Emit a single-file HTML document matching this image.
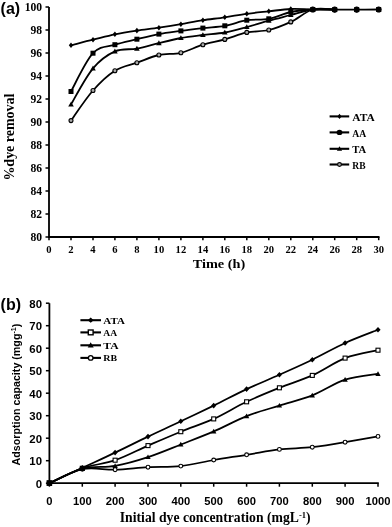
<!DOCTYPE html><html><head><meta charset="utf-8"><style>
html,body{margin:0;padding:0;background:#fff;}
svg{display:block;filter:blur(0.3px);}
.sr{font-family:"Liberation Serif",serif;font-weight:bold;}
.ss{font-family:"Liberation Sans",sans-serif;font-weight:bold;}
</style></head><body>
<svg width="392" height="527" viewBox="0 0 392 527">
<rect width="392" height="527" fill="#fff"/>
<text class="ss" x="0.6" y="13.8" font-size="16">(a)</text>
<path d="M49.0 7.0V237.0H379.5" fill="none" stroke="#000" stroke-width="1.8"/>
<path d="M45.5 7.0H49.0" stroke="#000" stroke-width="1.5"/>
<text class="sr" x="42.1" y="10.9" font-size="11.6" text-anchor="end">100</text>
<path d="M45.5 30.0H49.0" stroke="#000" stroke-width="1.5"/>
<text class="sr" x="42.1" y="33.9" font-size="11.6" text-anchor="end">98</text>
<path d="M45.5 53.0H49.0" stroke="#000" stroke-width="1.5"/>
<text class="sr" x="42.1" y="56.9" font-size="11.6" text-anchor="end">96</text>
<path d="M45.5 76.0H49.0" stroke="#000" stroke-width="1.5"/>
<text class="sr" x="42.1" y="79.9" font-size="11.6" text-anchor="end">94</text>
<path d="M45.5 99.0H49.0" stroke="#000" stroke-width="1.5"/>
<text class="sr" x="42.1" y="102.9" font-size="11.6" text-anchor="end">92</text>
<path d="M45.5 122.0H49.0" stroke="#000" stroke-width="1.5"/>
<text class="sr" x="42.1" y="125.9" font-size="11.6" text-anchor="end">90</text>
<path d="M45.5 145.0H49.0" stroke="#000" stroke-width="1.5"/>
<text class="sr" x="42.1" y="148.9" font-size="11.6" text-anchor="end">88</text>
<path d="M45.5 168.0H49.0" stroke="#000" stroke-width="1.5"/>
<text class="sr" x="42.1" y="171.9" font-size="11.6" text-anchor="end">86</text>
<path d="M45.5 191.0H49.0" stroke="#000" stroke-width="1.5"/>
<text class="sr" x="42.1" y="194.9" font-size="11.6" text-anchor="end">84</text>
<path d="M45.5 214.0H49.0" stroke="#000" stroke-width="1.5"/>
<text class="sr" x="42.1" y="217.9" font-size="11.6" text-anchor="end">82</text>
<path d="M45.5 237.0H49.0" stroke="#000" stroke-width="1.5"/>
<text class="sr" x="42.1" y="240.9" font-size="11.6" text-anchor="end">80</text>
<path d="M49.0 237.0V240.2" stroke="#000" stroke-width="1.5"/>
<text class="sr" x="49.0" y="253.0" font-size="10.6" text-anchor="middle">0</text>
<path d="M71.0 237.0V240.2" stroke="#000" stroke-width="1.5"/>
<text class="sr" x="71.0" y="253.0" font-size="10.6" text-anchor="middle">2</text>
<path d="M93.0 237.0V240.2" stroke="#000" stroke-width="1.5"/>
<text class="sr" x="93.0" y="253.0" font-size="10.6" text-anchor="middle">4</text>
<path d="M114.9 237.0V240.2" stroke="#000" stroke-width="1.5"/>
<text class="sr" x="114.9" y="253.0" font-size="10.6" text-anchor="middle">6</text>
<path d="M136.9 237.0V240.2" stroke="#000" stroke-width="1.5"/>
<text class="sr" x="136.9" y="253.0" font-size="10.6" text-anchor="middle">8</text>
<path d="M158.9 237.0V240.2" stroke="#000" stroke-width="1.5"/>
<text class="sr" x="158.9" y="253.0" font-size="10.6" text-anchor="middle">10</text>
<path d="M180.9 237.0V240.2" stroke="#000" stroke-width="1.5"/>
<text class="sr" x="180.9" y="253.0" font-size="10.6" text-anchor="middle">12</text>
<path d="M202.9 237.0V240.2" stroke="#000" stroke-width="1.5"/>
<text class="sr" x="202.9" y="253.0" font-size="10.6" text-anchor="middle">14</text>
<path d="M224.8 237.0V240.2" stroke="#000" stroke-width="1.5"/>
<text class="sr" x="224.8" y="253.0" font-size="10.6" text-anchor="middle">16</text>
<path d="M246.8 237.0V240.2" stroke="#000" stroke-width="1.5"/>
<text class="sr" x="246.8" y="253.0" font-size="10.6" text-anchor="middle">18</text>
<path d="M268.8 237.0V240.2" stroke="#000" stroke-width="1.5"/>
<text class="sr" x="268.8" y="253.0" font-size="10.6" text-anchor="middle">20</text>
<path d="M290.8 237.0V240.2" stroke="#000" stroke-width="1.5"/>
<text class="sr" x="290.8" y="253.0" font-size="10.6" text-anchor="middle">22</text>
<path d="M312.8 237.0V240.2" stroke="#000" stroke-width="1.5"/>
<text class="sr" x="312.8" y="253.0" font-size="10.6" text-anchor="middle">24</text>
<path d="M334.7 237.0V240.2" stroke="#000" stroke-width="1.5"/>
<text class="sr" x="334.7" y="253.0" font-size="10.6" text-anchor="middle">26</text>
<path d="M356.7 237.0V240.2" stroke="#000" stroke-width="1.5"/>
<text class="sr" x="356.7" y="253.0" font-size="10.6" text-anchor="middle">28</text>
<path d="M378.7 237.0V240.2" stroke="#000" stroke-width="1.5"/>
<text class="sr" x="378.7" y="253.0" font-size="10.6" text-anchor="middle">30</text>
<text class="sr" x="192.7" y="268" font-size="12.8" textLength="52.6" lengthAdjust="spacingAndGlyphs">Time (h)</text>
<text class="sr" transform="translate(14.4,180.6) rotate(-90)" font-size="14.2" textLength="87" lengthAdjust="spacingAndGlyphs">%dye removal</text>
<path d="M71.0 45.3C74.6 44.4 85.6 41.5 93.0 39.7C100.3 37.9 107.6 35.8 114.9 34.3C122.3 32.8 129.6 31.7 136.9 30.6C144.2 29.5 151.6 28.8 158.9 27.7C166.2 26.6 173.6 25.4 180.9 24.2C188.2 22.9 195.5 21.3 202.9 20.2C210.2 19.1 217.5 18.4 224.8 17.3C232.2 16.2 239.5 14.8 246.8 13.8C254.1 12.8 261.5 12.1 268.8 11.3C276.1 10.5 283.5 9.3 290.8 9.0C298.1 8.7 305.4 9.4 312.8 9.5C320.1 9.6 327.4 9.6 334.7 9.6C342.1 9.6 349.4 9.6 356.7 9.6C364.0 9.6 375.0 9.5 378.7 9.5" fill="none" stroke="#000" stroke-width="1.8" stroke-linejoin="round"/>
<path d="M71.0 91.5C74.6 85.1 85.6 61.0 93.0 53.2C100.3 45.4 107.6 47.0 114.9 44.7C122.3 42.4 129.6 41.0 136.9 39.2C144.2 37.4 151.6 35.5 158.9 34.1C166.2 32.7 173.6 31.9 180.9 30.9C188.2 29.9 195.5 29.0 202.9 28.1C210.2 27.2 217.5 27.1 224.8 25.8C232.2 24.5 239.5 21.4 246.8 20.2C254.1 19.0 261.5 20.2 268.8 18.8C276.1 17.4 283.5 13.6 290.8 12.0C298.1 10.4 305.4 9.9 312.8 9.5C320.1 9.1 331.1 9.6 334.7 9.6" fill="none" stroke="#000" stroke-width="1.8" stroke-linejoin="round"/>
<path d="M71.0 104.5C74.6 98.5 85.6 77.2 93.0 68.4C100.3 59.6 107.6 54.7 114.9 51.4C122.3 48.1 129.6 50.0 136.9 48.6C144.2 47.2 151.6 44.9 158.9 43.1C166.2 41.3 173.6 39.4 180.9 38.0C188.2 36.6 195.5 35.9 202.9 35.0C210.2 34.1 217.5 33.8 224.8 32.5C232.2 31.2 239.5 29.0 246.8 27.0C254.1 25.0 261.5 22.7 268.8 20.7C276.1 18.7 283.5 16.9 290.8 15.0C298.1 13.1 305.4 10.4 312.8 9.5C320.1 8.6 331.1 9.6 334.7 9.6" fill="none" stroke="#000" stroke-width="1.8" stroke-linejoin="round"/>
<path d="M71.0 120.6C74.6 115.6 85.6 98.8 93.0 90.5C100.3 82.2 107.6 75.3 114.9 70.7C122.3 66.1 129.6 65.3 136.9 62.7C144.2 60.1 151.6 56.6 158.9 55.0C166.2 53.4 173.6 54.5 180.9 52.8C188.2 51.1 195.5 46.9 202.9 44.7C210.2 42.5 217.5 41.5 224.8 39.4C232.2 37.3 239.5 34.0 246.8 32.4C254.1 30.8 261.5 31.8 268.8 30.0C276.1 28.2 283.5 25.3 290.8 21.9C298.1 18.5 305.4 11.6 312.8 9.5C320.1 7.5 331.1 9.6 334.7 9.6" fill="none" stroke="#000" stroke-width="1.8" stroke-linejoin="round"/>
<path d="M71.0 42.5L73.2 45.3L71.0 48.1L68.8 45.3Z" fill="#000"/>
<path d="M93.0 36.9L95.2 39.7L93.0 42.5L90.8 39.7Z" fill="#000"/>
<path d="M114.9 31.5L117.1 34.3L114.9 37.1L112.7 34.3Z" fill="#000"/>
<path d="M136.9 27.8L139.1 30.6L136.9 33.4L134.7 30.6Z" fill="#000"/>
<path d="M158.9 24.9L161.1 27.7L158.9 30.5L156.7 27.7Z" fill="#000"/>
<path d="M180.9 21.4L183.1 24.2L180.9 27.0L178.7 24.2Z" fill="#000"/>
<path d="M202.9 17.4L205.1 20.2L202.9 23.0L200.7 20.2Z" fill="#000"/>
<path d="M224.8 14.5L227.0 17.3L224.8 20.1L222.6 17.3Z" fill="#000"/>
<path d="M246.8 11.0L249.0 13.8L246.8 16.6L244.6 13.8Z" fill="#000"/>
<path d="M268.8 8.5L271.0 11.3L268.8 14.1L266.6 11.3Z" fill="#000"/>
<path d="M290.8 6.2L293.0 9.0L290.8 11.8L288.6 9.0Z" fill="#000"/>
<path d="M312.8 6.7L315.0 9.5L312.8 12.3L310.6 9.5Z" fill="#000"/>
<path d="M334.7 6.8L336.9 9.6L334.7 12.4L332.5 9.6Z" fill="#000"/>
<path d="M356.7 6.8L358.9 9.6L356.7 12.4L354.5 9.6Z" fill="#000"/>
<path d="M378.7 6.7L380.9 9.5L378.7 12.3L376.5 9.5Z" fill="#000"/>
<rect x="68.5" y="89.0" width="5.0" height="5.0" fill="#000"/>
<rect x="90.5" y="50.7" width="5.0" height="5.0" fill="#000"/>
<rect x="112.4" y="42.2" width="5.0" height="5.0" fill="#000"/>
<rect x="134.4" y="36.7" width="5.0" height="5.0" fill="#000"/>
<rect x="156.4" y="31.6" width="5.0" height="5.0" fill="#000"/>
<rect x="178.4" y="28.4" width="5.0" height="5.0" fill="#000"/>
<rect x="200.4" y="25.6" width="5.0" height="5.0" fill="#000"/>
<rect x="222.3" y="23.3" width="5.0" height="5.0" fill="#000"/>
<rect x="244.3" y="17.7" width="5.0" height="5.0" fill="#000"/>
<rect x="266.3" y="16.3" width="5.0" height="5.0" fill="#000"/>
<rect x="288.3" y="9.5" width="5.0" height="5.0" fill="#000"/>
<rect x="310.3" y="7.0" width="5.0" height="5.0" fill="#000"/>
<rect x="332.2" y="7.1" width="5.0" height="5.0" fill="#000"/>
<rect x="354.2" y="7.1" width="5.0" height="5.0" fill="#000"/>
<rect x="376.2" y="7.0" width="5.0" height="5.0" fill="#000"/>
<path d="M71.0 101.7L73.8 106.6L68.2 106.6Z" fill="#000"/>
<path d="M93.0 65.6L95.8 70.5L90.2 70.5Z" fill="#000"/>
<path d="M114.9 48.6L117.7 53.5L112.1 53.5Z" fill="#000"/>
<path d="M136.9 45.8L139.7 50.7L134.1 50.7Z" fill="#000"/>
<path d="M158.9 40.3L161.7 45.2L156.1 45.2Z" fill="#000"/>
<path d="M180.9 35.2L183.7 40.1L178.1 40.1Z" fill="#000"/>
<path d="M202.9 32.2L205.7 37.1L200.1 37.1Z" fill="#000"/>
<path d="M224.8 29.7L227.6 34.6L222.0 34.6Z" fill="#000"/>
<path d="M246.8 24.2L249.6 29.1L244.0 29.1Z" fill="#000"/>
<path d="M268.8 17.9L271.6 22.8L266.0 22.8Z" fill="#000"/>
<path d="M290.8 12.2L293.6 17.1L288.0 17.1Z" fill="#000"/>
<path d="M312.8 6.7L315.6 11.6L310.0 11.6Z" fill="#000"/>
<path d="M334.7 6.8L337.5 11.7L331.9 11.7Z" fill="#000"/>
<path d="M356.7 6.8L359.5 11.7L353.9 11.7Z" fill="#000"/>
<path d="M378.7 6.7L381.5 11.6L375.9 11.6Z" fill="#000"/>
<circle cx="71.0" cy="120.6" r="2.0" fill="#aaa" stroke="#000" stroke-width="1.1"/>
<circle cx="93.0" cy="90.5" r="2.0" fill="#aaa" stroke="#000" stroke-width="1.1"/>
<circle cx="114.9" cy="70.7" r="2.0" fill="#aaa" stroke="#000" stroke-width="1.1"/>
<circle cx="136.9" cy="62.7" r="2.0" fill="#aaa" stroke="#000" stroke-width="1.1"/>
<circle cx="158.9" cy="55.0" r="2.0" fill="#aaa" stroke="#000" stroke-width="1.1"/>
<circle cx="180.9" cy="52.8" r="2.0" fill="#aaa" stroke="#000" stroke-width="1.1"/>
<circle cx="202.9" cy="44.7" r="2.0" fill="#aaa" stroke="#000" stroke-width="1.1"/>
<circle cx="224.8" cy="39.4" r="2.0" fill="#aaa" stroke="#000" stroke-width="1.1"/>
<circle cx="246.8" cy="32.4" r="2.0" fill="#aaa" stroke="#000" stroke-width="1.1"/>
<circle cx="268.8" cy="30.0" r="2.0" fill="#aaa" stroke="#000" stroke-width="1.1"/>
<circle cx="290.8" cy="21.9" r="2.0" fill="#aaa" stroke="#000" stroke-width="1.1"/>
<circle cx="312.8" cy="9.5" r="2.0" fill="#aaa" stroke="#000" stroke-width="1.1"/>
<circle cx="334.7" cy="9.6" r="2.0" fill="#aaa" stroke="#000" stroke-width="1.1"/>
<circle cx="356.7" cy="9.6" r="2.0" fill="#aaa" stroke="#000" stroke-width="1.1"/>
<circle cx="378.7" cy="9.5" r="2.0" fill="#aaa" stroke="#000" stroke-width="1.1"/>
<ellipse cx="312.8" cy="9.5" rx="2.8" ry="3.1" fill="#000"/>
<ellipse cx="334.7" cy="9.6" rx="2.8" ry="3.1" fill="#000"/>
<ellipse cx="356.7" cy="9.6" rx="2.8" ry="3.1" fill="#000"/>
<ellipse cx="378.7" cy="9.5" rx="2.8" ry="3.1" fill="#000"/>
<path d="M329.6 116.4H349.2" stroke="#000" stroke-width="2.1"/>
<path d="M339.5 113.8L341.5 116.4L339.5 119.0L337.5 116.4Z" fill="#000"/>
<text class="sr" x="352.3" y="121.0" font-size="9.6" textLength="22.5" lengthAdjust="spacingAndGlyphs">ATA</text>
<path d="M329.6 132.4H349.2" stroke="#000" stroke-width="2.1"/>
<ellipse cx="339.5" cy="132.4" rx="2.9" ry="2.6" fill="#000"/>
<text class="sr" x="352.3" y="137.0" font-size="9.6" textLength="14.0" lengthAdjust="spacingAndGlyphs">AA</text>
<path d="M329.6 148.8H349.2" stroke="#000" stroke-width="2.1"/>
<path d="M339.5 146.2L342.1 150.8L336.9 150.8Z" fill="#000"/>
<text class="sr" x="352.3" y="153.4" font-size="9.6" textLength="14.0" lengthAdjust="spacingAndGlyphs">TA</text>
<path d="M329.6 164.5H349.2" stroke="#000" stroke-width="2.1"/>
<circle cx="339.5" cy="164.5" r="1.9" fill="#aaa" stroke="#000" stroke-width="1.1"/>
<text class="sr" x="352.3" y="169.1" font-size="9.6" textLength="13.3" lengthAdjust="spacingAndGlyphs">RB</text>
<text class="ss" x="0.6" y="310.3" font-size="16">(b)</text>
<path d="M49.4 303.2V483.2H378.8" fill="none" stroke="#000" stroke-width="1.8"/>
<path d="M45.9 483.2H49.4" stroke="#000" stroke-width="1.5"/>
<text class="ss" x="42" y="487.5" font-size="11.4" text-anchor="end">0</text>
<path d="M45.9 460.7H49.4" stroke="#000" stroke-width="1.5"/>
<text class="ss" x="42" y="465.0" font-size="11.4" text-anchor="end">10</text>
<path d="M45.9 438.2H49.4" stroke="#000" stroke-width="1.5"/>
<text class="ss" x="42" y="442.5" font-size="11.4" text-anchor="end">20</text>
<path d="M45.9 415.7H49.4" stroke="#000" stroke-width="1.5"/>
<text class="ss" x="42" y="420.0" font-size="11.4" text-anchor="end">30</text>
<path d="M45.9 393.2H49.4" stroke="#000" stroke-width="1.5"/>
<text class="ss" x="42" y="397.5" font-size="11.4" text-anchor="end">40</text>
<path d="M45.9 370.7H49.4" stroke="#000" stroke-width="1.5"/>
<text class="ss" x="42" y="375.0" font-size="11.4" text-anchor="end">50</text>
<path d="M45.9 348.2H49.4" stroke="#000" stroke-width="1.5"/>
<text class="ss" x="42" y="352.5" font-size="11.4" text-anchor="end">60</text>
<path d="M45.9 325.7H49.4" stroke="#000" stroke-width="1.5"/>
<text class="ss" x="42" y="330.0" font-size="11.4" text-anchor="end">70</text>
<path d="M45.9 303.2H49.4" stroke="#000" stroke-width="1.5"/>
<text class="ss" x="42" y="307.5" font-size="11.4" text-anchor="end">80</text>
<path d="M49.4 483.2V486.7" stroke="#000" stroke-width="1.5"/>
<text class="ss" x="49.4" y="505.2" font-size="11.2" text-anchor="middle">0</text>
<path d="M82.3 483.2V486.7" stroke="#000" stroke-width="1.5"/>
<text class="ss" x="82.3" y="505.2" font-size="11.2" text-anchor="middle">100</text>
<path d="M115.1 483.2V486.7" stroke="#000" stroke-width="1.5"/>
<text class="ss" x="115.1" y="505.2" font-size="11.2" text-anchor="middle">200</text>
<path d="M148.0 483.2V486.7" stroke="#000" stroke-width="1.5"/>
<text class="ss" x="148.0" y="505.2" font-size="11.2" text-anchor="middle">300</text>
<path d="M180.8 483.2V486.7" stroke="#000" stroke-width="1.5"/>
<text class="ss" x="180.8" y="505.2" font-size="11.2" text-anchor="middle">400</text>
<path d="M213.7 483.2V486.7" stroke="#000" stroke-width="1.5"/>
<text class="ss" x="213.7" y="505.2" font-size="11.2" text-anchor="middle">500</text>
<path d="M246.6 483.2V486.7" stroke="#000" stroke-width="1.5"/>
<text class="ss" x="246.6" y="505.2" font-size="11.2" text-anchor="middle">600</text>
<path d="M279.4 483.2V486.7" stroke="#000" stroke-width="1.5"/>
<text class="ss" x="279.4" y="505.2" font-size="11.2" text-anchor="middle">700</text>
<path d="M312.3 483.2V486.7" stroke="#000" stroke-width="1.5"/>
<text class="ss" x="312.3" y="505.2" font-size="11.2" text-anchor="middle">800</text>
<path d="M345.1 483.2V486.7" stroke="#000" stroke-width="1.5"/>
<text class="ss" x="345.1" y="505.2" font-size="11.2" text-anchor="middle">900</text>
<path d="M378.0 483.2V486.7" stroke="#000" stroke-width="1.5"/>
<text class="ss" x="378.0" y="505.2" font-size="11.2" text-anchor="middle">1000</text>
<text class="sr" x="119.8" y="522" font-size="13.7">Initial dye concentration (mgL<tspan font-size="8.5" dy="-4.5">-1</tspan><tspan dy="4.5">)</tspan></text>
<text class="ss" transform="translate(19.8,394.6) rotate(-90)" font-size="10.7" text-anchor="middle">Adsorption capacity (mgg<tspan font-size="7" dy="-3.5">-1</tspan><tspan dy="3.5">)</tspan></text>
<path d="M49.4 483.2C54.9 480.6 71.3 473.0 82.3 467.9C93.2 462.8 104.2 457.8 115.1 452.6C126.1 447.4 137.0 441.8 148.0 436.6C158.9 431.4 169.9 426.5 180.8 421.3C191.8 416.1 202.7 410.9 213.7 405.6C224.7 400.2 235.6 394.3 246.6 389.1C257.5 384.0 268.5 379.7 279.4 374.8C290.4 369.8 301.3 365.0 312.3 359.7C323.2 354.4 334.2 348.0 345.1 343.0C356.1 338.0 372.5 332.0 378.0 329.8" fill="none" stroke="#000" stroke-width="1.75" stroke-linejoin="round"/>
<path d="M49.4 483.2C54.9 480.7 71.3 472.2 82.3 468.3C93.2 464.5 104.2 464.0 115.1 460.2C126.1 456.5 137.0 450.4 148.0 445.6C158.9 440.9 169.9 436.1 180.8 431.7C191.8 427.2 202.7 423.8 213.7 418.9C224.7 413.9 235.6 406.9 246.6 401.8C257.5 396.6 268.5 392.2 279.4 387.8C290.4 383.4 301.3 380.4 312.3 375.4C323.2 370.5 334.2 362.3 345.1 358.1C356.1 353.9 372.5 351.5 378.0 350.2" fill="none" stroke="#000" stroke-width="1.75" stroke-linejoin="round"/>
<path d="M49.4 483.2C54.9 480.8 71.3 471.7 82.3 468.8C93.2 465.9 104.2 467.8 115.1 465.9C126.1 463.9 137.0 460.7 148.0 457.1C158.9 453.5 169.9 448.8 180.8 444.5C191.8 440.2 202.7 436.2 213.7 431.4C224.7 426.7 235.6 420.5 246.6 416.1C257.5 411.8 268.5 409.0 279.4 405.6C290.4 402.1 301.3 399.8 312.3 395.4C323.2 391.1 334.2 383.3 345.1 379.7C356.1 376.1 372.5 374.8 378.0 373.9" fill="none" stroke="#000" stroke-width="1.75" stroke-linejoin="round"/>
<path d="M49.4 483.2C54.9 480.9 71.3 471.5 82.3 469.2C93.2 467.0 104.2 470.0 115.1 469.7C126.1 469.4 137.0 467.8 148.0 467.2C158.9 466.6 169.9 467.3 180.8 466.1C191.8 464.9 202.7 461.9 213.7 460.0C224.7 458.1 235.6 456.6 246.6 454.8C257.5 453.1 268.5 450.7 279.4 449.4C290.4 448.2 301.3 448.4 312.3 447.2C323.2 446.0 334.2 444.1 345.1 442.2C356.1 440.4 372.5 437.4 378.0 436.4" fill="none" stroke="#000" stroke-width="1.75" stroke-linejoin="round"/>
<circle cx="49.4" cy="483.2" r="1.9" fill="#fff" stroke="#000" stroke-width="1.1"/>
<circle cx="82.3" cy="469.2" r="1.9" fill="#fff" stroke="#000" stroke-width="1.1"/>
<circle cx="115.1" cy="469.7" r="1.9" fill="#fff" stroke="#000" stroke-width="1.1"/>
<circle cx="148.0" cy="467.2" r="1.9" fill="#fff" stroke="#000" stroke-width="1.1"/>
<circle cx="180.8" cy="466.1" r="1.9" fill="#fff" stroke="#000" stroke-width="1.1"/>
<circle cx="213.7" cy="460.0" r="1.9" fill="#fff" stroke="#000" stroke-width="1.1"/>
<circle cx="246.6" cy="454.8" r="1.9" fill="#fff" stroke="#000" stroke-width="1.1"/>
<circle cx="279.4" cy="449.4" r="1.9" fill="#fff" stroke="#000" stroke-width="1.1"/>
<circle cx="312.3" cy="447.2" r="1.9" fill="#fff" stroke="#000" stroke-width="1.1"/>
<circle cx="345.1" cy="442.2" r="1.9" fill="#fff" stroke="#000" stroke-width="1.1"/>
<circle cx="378.0" cy="436.4" r="1.9" fill="#fff" stroke="#000" stroke-width="1.1"/>
<rect x="47.4" y="481.2" width="4.0" height="4.0" fill="#fff" stroke="#000" stroke-width="1.1"/>
<rect x="80.3" y="466.3" width="4.0" height="4.0" fill="#fff" stroke="#000" stroke-width="1.1"/>
<rect x="113.1" y="458.2" width="4.0" height="4.0" fill="#fff" stroke="#000" stroke-width="1.1"/>
<rect x="146.0" y="443.6" width="4.0" height="4.0" fill="#fff" stroke="#000" stroke-width="1.1"/>
<rect x="178.8" y="429.7" width="4.0" height="4.0" fill="#fff" stroke="#000" stroke-width="1.1"/>
<rect x="211.7" y="416.9" width="4.0" height="4.0" fill="#fff" stroke="#000" stroke-width="1.1"/>
<rect x="244.6" y="399.8" width="4.0" height="4.0" fill="#fff" stroke="#000" stroke-width="1.1"/>
<rect x="277.4" y="385.8" width="4.0" height="4.0" fill="#fff" stroke="#000" stroke-width="1.1"/>
<rect x="310.3" y="373.4" width="4.0" height="4.0" fill="#fff" stroke="#000" stroke-width="1.1"/>
<rect x="343.1" y="356.1" width="4.0" height="4.0" fill="#fff" stroke="#000" stroke-width="1.1"/>
<rect x="376.0" y="348.2" width="4.0" height="4.0" fill="#fff" stroke="#000" stroke-width="1.1"/>
<path d="M49.4 480.5L52.1 485.2L46.7 485.2Z" fill="#000"/>
<path d="M82.3 466.1L85.0 470.8L79.6 470.8Z" fill="#000"/>
<path d="M115.1 463.2L117.8 467.9L112.4 467.9Z" fill="#000"/>
<path d="M148.0 454.4L150.7 459.1L145.3 459.1Z" fill="#000"/>
<path d="M180.8 441.8L183.5 446.5L178.1 446.5Z" fill="#000"/>
<path d="M213.7 428.8L216.4 433.5L211.0 433.5Z" fill="#000"/>
<path d="M246.6 413.4L249.3 418.2L243.9 418.2Z" fill="#000"/>
<path d="M279.4 402.9L282.1 407.6L276.7 407.6Z" fill="#000"/>
<path d="M312.3 392.8L315.0 397.5L309.6 397.5Z" fill="#000"/>
<path d="M345.1 377.0L347.8 381.7L342.4 381.7Z" fill="#000"/>
<path d="M378.0 371.2L380.7 375.9L375.3 375.9Z" fill="#000"/>
<path d="M49.4 480.4L52.0 483.2L49.4 486.0L46.8 483.2Z" fill="#000"/>
<path d="M82.3 465.1L84.9 467.9L82.3 470.7L79.7 467.9Z" fill="#000"/>
<path d="M115.1 449.8L117.7 452.6L115.1 455.4L112.5 452.6Z" fill="#000"/>
<path d="M148.0 433.8L150.6 436.6L148.0 439.4L145.4 436.6Z" fill="#000"/>
<path d="M180.8 418.5L183.4 421.3L180.8 424.1L178.2 421.3Z" fill="#000"/>
<path d="M213.7 402.8L216.3 405.6L213.7 408.4L211.1 405.6Z" fill="#000"/>
<path d="M246.6 386.3L249.2 389.1L246.6 391.9L244.0 389.1Z" fill="#000"/>
<path d="M279.4 371.9L282.0 374.8L279.4 377.6L276.8 374.8Z" fill="#000"/>
<path d="M312.3 356.9L314.9 359.7L312.3 362.5L309.7 359.7Z" fill="#000"/>
<path d="M345.1 340.2L347.7 343.0L345.1 345.8L342.5 343.0Z" fill="#000"/>
<path d="M378.0 326.9L380.6 329.8L378.0 332.6L375.4 329.8Z" fill="#000"/>
<rect x="46.6" y="480.2" width="5.6" height="5.6" fill="#000"/>
<ellipse cx="82.3" cy="468.3" rx="2.8" ry="2.6" fill="#000"/>
<path d="M80.4 320.2H101" stroke="#000" stroke-width="2.1"/>
<path d="M90.7 317.6L93.7 320.2L90.7 322.8L87.7 320.2Z" fill="#000"/>
<text class="sr" x="103.3" y="324.2" font-size="9.0" textLength="21.5" lengthAdjust="spacingAndGlyphs">ATA</text>
<path d="M80.4 332.4H101" stroke="#000" stroke-width="2.1"/>
<rect x="88.3" y="330.0" width="4.8" height="4.8" fill="#fff" stroke="#000" stroke-width="1.4"/>
<text class="sr" x="103.3" y="335.6" font-size="9.0" textLength="13.8" lengthAdjust="spacingAndGlyphs">AA</text>
<path d="M80.4 345.3H101" stroke="#000" stroke-width="2.1"/>
<path d="M90.7 342.3L93.7 347.6L87.7 347.6Z" fill="#000"/>
<text class="sr" x="103.3" y="348.9" font-size="9.0" textLength="15.3" lengthAdjust="spacingAndGlyphs">TA</text>
<path d="M80.4 357.9H101" stroke="#000" stroke-width="2.1"/>
<circle cx="90.7" cy="357.9" r="2.3" fill="#fff" stroke="#000" stroke-width="1.3"/>
<text class="sr" x="103.3" y="361.2" font-size="9.0" textLength="13.8" lengthAdjust="spacingAndGlyphs">RB</text>
</svg></body></html>
